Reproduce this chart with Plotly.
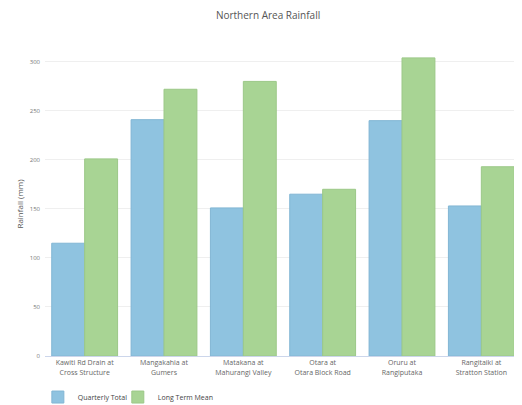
import plotly.graph_objects as go

categories = [
    "Kawiti Rd Drain at<br>Cross Structure",
    "Mangakahia at<br>Gumers",
    "Matakana at<br>Mahurangi Valley",
    "Otara at<br>Otara Block Road",
    "Oruru at<br>Rangiputaka",
    "Rangitaiki at<br>Stratton Station",
]
quarterly_total = [115, 241, 151, 165, 240, 153]
long_term_mean = [201, 272, 280, 170, 304, 193]
y_ticks = [0, 50, 100, 150, 200, 250, 300]

fig = go.Figure()
fig.add_trace(go.Bar(
    x=categories, y=quarterly_total, name="Quarterly Total",
    marker=dict(color="#8fc3e0", line=dict(color="#82b6d4", width=1)),
    legend="legend",
))
fig.add_trace(go.Bar(
    x=categories, y=long_term_mean, name="Long Term Mean",
    marker=dict(color="#a8d494", line=dict(color="#9cc888", width=1)),
    legend="legend2",
))

legend_common = dict(orientation="h", xref="paper", yref="paper",
                     y=-0.135, xanchor="left", yanchor="middle",
                     font=dict(size=7, color="#444444"),
                     bgcolor="rgba(0,0,0,0)")

fig.update_layout(
    width=514, height=397,
    margin=dict(l=37, r=1, t=44, b=49, autoexpand=False),
    paper_bgcolor="white", plot_bgcolor="white",
    font=dict(family="Open Sans, DejaVu Sans, sans-serif", color="#666666", size=8),
    title=dict(text="Northern Area Rainfall", x=0.506, xanchor="center",
               y=0.98, yanchor="middle",
               font=dict(size=10, color="#555555")),
    barmode="group", bargap=0.17, bargroupgap=0,
    showlegend=True,
    legend=dict(x=-0.015, **legend_common),
    legend2=dict(x=0.153, **legend_common),
)
fig.update_xaxes(
    showline=True, linecolor="#ccd6eb", linewidth=1,
    ticks="", tickfont=dict(size=7, color="#666666"),
    showgrid=False, automargin=False,
)
fig.update_yaxes(
    range=[0, 310], tickvals=y_ticks, ticktext=[str(v) for v in y_ticks],
    showgrid=True, gridcolor="#efefef", gridwidth=1,
    zeroline=False, tickfont=dict(size=6, color="#777777"),
    title=dict(text="Rainfall (mm)", font=dict(size=8, color="#555555"), standoff=4),
    ticks="", ticklabelstandoff=4, automargin=False,
)

fig.write_html("out.html")
